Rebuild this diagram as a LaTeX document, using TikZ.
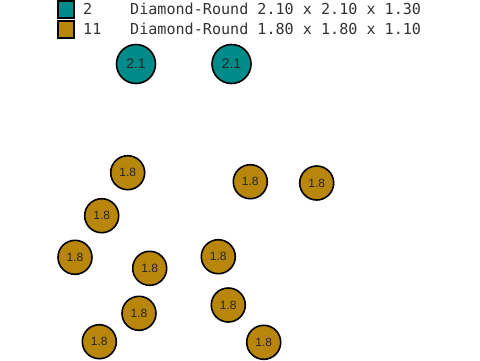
\documentclass[tikz,border=0pt]{standalone}
\usepackage{fontspec}
\setmainfont{Liberation Sans}
\newfontfamily\legendfont{DejaVu Sans Mono}
\definecolor{tealc}{HTML}{008B8B}
\definecolor{goldc}{HTML}{B8860B}
\begin{document}
\begin{tikzpicture}[x=1pt,y=-1pt,
  bigdisc/.style={circle,draw=black,line width=1.6pt,fill=tealc,minimum size=39pt,inner sep=0pt,font=\fontsize{14}{14}\selectfont,text=black!85},
  smalldisc/.style={circle,draw=black,line width=1.6pt,fill=goldc,minimum size=34pt,inner sep=0pt,font=\fontsize{12}{12}\selectfont,text=black!85},
  legbox/.style={draw=black,line width=1.6pt,minimum size=16.5pt,inner sep=0pt},
  legtext/.style={anchor=west,inner sep=0pt,font=\legendfont\fontsize{15.1}{15.1}\selectfont,text=black!80}]
\useasboundingbox (0,0) rectangle (480,360);
% legend
\node[legbox,fill=tealc] (l1) at (66,9.5) {};
\node[legbox,fill=goldc] (l2) at (66,29.5) {};
\node[legtext] (c1) at (83,9) {2};
\node[legtext] (c2) at (83,29) {11};
\node[legtext] (d1) at (130,9) {Diamond-Round 2.10 x 2.10 x 1.30};
\node[legtext] (d2) at (130,29) {Diamond-Round 1.80 x 1.80 x 1.10};
% large stones
\node[bigdisc] (b1) at (136,64) {2.1};
\node[bigdisc] (b2) at (231.5,64) {2.1};
% small stones
\node[smalldisc] (s1) at (127.7,172.7) {1.8};
\node[smalldisc] (s2) at (101.7,215.7) {1.8};
\node[smalldisc] (s3) at (75,257.3) {1.8};
\node[smalldisc] (s4) at (149.7,268.3) {1.8};
\node[smalldisc] (s5) at (139,313.3) {1.8};
\node[smalldisc] (s6) at (99.3,341.7) {1.8};
\node[smalldisc] (s7) at (250.3,181.7) {1.8};
\node[smalldisc] (s8) at (316.7,183) {1.8};
\node[smalldisc] (s9) at (218.3,256.7) {1.8};
\node[smalldisc] (s10) at (228.3,305) {1.8};
\node[smalldisc] (s11) at (263.7,342.3) {1.8};
\end{tikzpicture}
\end{document}
